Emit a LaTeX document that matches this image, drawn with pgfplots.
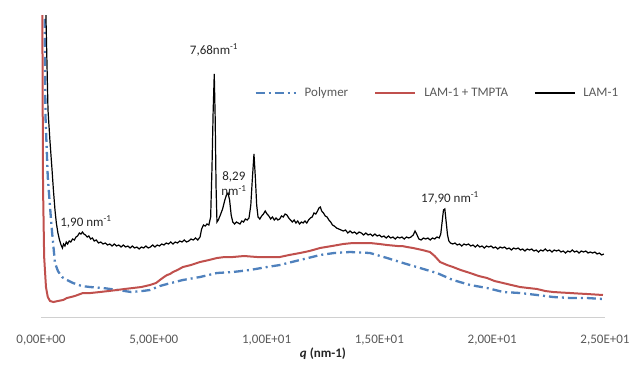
\documentclass[border=0pt]{standalone}
\usepackage{pgfplots}
\pgfplotsset{compat=1.18}
\usepackage{fontspec}
\setmainfont{Carlito}
\definecolor{exred}{HTML}{C0504D}
\definecolor{exblue}{HTML}{4F81BD}
\definecolor{txtgray}{HTML}{595959}
\definecolor{axgray}{HTML}{D0D0D0}
\begin{document}
\begin{tikzpicture}
\path[use as bounding box] (-41pt,-51pt) rectangle (592pt,317pt);
\begin{axis}[
  at={(0pt,0pt)}, anchor=south west,
  scale only axis, width=564pt, height=302pt,
  xmin=0, xmax=25, ymin=0, ymax=302,
  axis x line=bottom, axis y line=none,
  x axis line style={-, draw=axgray, line width=0.9pt},
  xtick={0,5,10,15,20,25},
  xticklabels={{0,00E+00},{5,00E+00},{1,00E+01},{1,50E+01},{2,00E+01},{2,50E+01}},
  major tick length=0pt,
  xticklabel style={font=\fontsize{13}{15}\selectfont, text=txtgray, yshift=-15pt},
  xlabel={\textit{q} (nm-1)},
  every axis x label/.style={at={(axis description cs:0.5,0)}, anchor=center, yshift=-37pt,
    font=\fontsize{13}{15}\selectfont\bfseries, text=black!85},
  clip=true,
  legend columns=3,
  legend style={at={(axis description cs:0.378,0.742)}, anchor=west, draw=none, fill=none,
    font=\fontsize{13}{15}\selectfont, text=txtgray, inner sep=0pt,
    /tikz/every odd column/.append style={column sep=6pt},
    /tikz/every even column/.append style={column sep=24pt}},
  legend image code/.code={\draw[#1] (0pt,0pt) -- (40pt,0pt);},
]
\addplot[exblue, line width=2.3pt, dash pattern=on 9pt off 4pt on 2pt off 4pt] coordinates {
(0.10,450) (0.15,330) (0.20,200) (0.30,140) (0.40,110) (0.49,85) (0.62,54) (0.75,46) (0.93,40)
(1.15,37) (1.42,34) (1.80,31) (2.17,30) (2.75,29) (3.40,27) (4.00,25) (4.50,26) (4.83,27)
(5.27,31) (5.59,33) (6.29,37) (7.05,40) (7.80,44) (8.51,45) (9.26,47) (10.02,50) (10.59,52)
(11.48,57) (12.37,62) (13.00,64) (13.70,65) (14.58,64) (15.34,59) (16.05,54) (16.80,49)
(17.55,44) (18.26,37) (19.02,32) (19.77,29) (20.48,25) (21.23,24) (21.99,22) (22.70,20)
(23.45,19) (24.20,19) (24.91,18)
};
\addlegendentry{Polymer}
\addplot[exred, line width=2pt] coordinates {
(0.02,450) (0.06,300) (0.09,130) (0.14,60) (0.22,30) (0.30,20) (0.40,16) (0.55,15) (0.75,16)
(0.98,17) (1.15,19) (1.50,21) (1.86,24) (2.20,24) (2.62,25) (3.00,26) (3.37,27) (3.70,28) (4.08,29)
(4.45,30) (4.83,32) (5.10,34) (5.27,37) (5.45,40) (5.59,42) (5.72,43) (5.85,45) (6.05,47)
(6.29,50) (6.65,52) (7.05,55) (7.45,57) (7.80,59) (8.15,60) (8.51,60) (9.00,61) (9.57,60)
(10.02,60) (10.59,60) (11.00,62) (11.48,64) (11.90,66) (12.37,69) (12.90,71) (13.40,73)
(13.83,74) (14.10,74) (14.58,74) (15.00,73) (15.34,72) (15.80,71) (16.00,71) (16.22,70)
(16.49,69) (16.90,67) (17.24,65) (17.45,61) (17.69,55) (18.00,52) (18.26,50) (18.60,47)
(19.02,44) (19.40,41) (19.77,39) (20.10,36) (20.48,34) (20.85,32) (21.23,30) (21.60,29)
(21.99,28) (22.35,26) (22.70,25) (23.05,24.5) (23.45,24) (23.80,23.5) (24.20,23) (24.55,22.5) (24.91,22)
};
\addlegendentry{LAM-1 + TMPTA}
\addplot[black, line width=1.2pt] coordinates {
(0.12,420) (0.22,300) (0.31,207) (0.40,175) (0.49,147) (0.55,127) (0.62,107) (0.68,94) (0.75,84)
(0.82,77) (0.89,72) (0.95,69) (1.00,73) (1.06,71) (1.12,75) (1.18,73) (1.25,76) (1.32,75)
(1.40,78) (1.48,77) (1.55,80) (1.62,81) (1.70,84) (1.77,83) (1.84,85) (1.90,83) (1.97,82)
(2.05,80) (2.12,81) (2.20,78) (2.28,79) (2.36,76) (2.45,77) (2.55,74) (2.65,75) (2.75,73)
(2.85,74) (2.95,72) (3.05,73) (3.15,71) (3.25,73) (3.35,71) (3.45,72) (3.55,70) (3.65,72)
(3.75,70) (3.85,71) (3.95,69) (4.05,71) (4.15,69) (4.25,70) (4.35,68) (4.45,70) (4.55,69)
(4.65,71) (4.75,69) (4.85,70) (4.95,72) (5.05,70) (5.15,72) (5.25,71) (5.35,73) (5.45,72)
(5.55,74) (5.65,73) (5.75,75) (5.85,73) (5.95,75) (6.05,74) (6.15,76) (6.25,75) (6.35,77)
(6.45,75) (6.55,76) (6.65,78) (6.75,77) (6.85,79) (6.95,77) (7.05,80) (7.12,88) (7.20,92)
(7.28,91) (7.36,93) (7.44,92) (7.52,100) (7.58,150) (7.63,205) (7.68,243) (7.72,200)
(7.76,130) (7.80,95) (7.86,97) (7.95,102) (8.05,108) (8.15,117) (8.22,122) (8.29,124)
(8.36,117) (8.43,102) (8.50,95) (8.58,93) (8.66,95) (8.74,94) (8.82,93) (8.90,96) (8.98,95)
(9.06,98) (9.14,97) (9.22,99) (9.30,112) (9.36,135) (9.44,163) (9.50,140) (9.56,112)
(9.62,100) (9.70,98) (9.78,101) (9.86,103) (9.94,106) (10.02,103) (10.10,101) (10.18,98)
(10.26,100) (10.34,97) (10.42,99) (10.50,97) (10.58,98) (10.66,101) (10.74,100) (10.82,103)
(10.90,102) (10.98,99) (11.06,97) (11.14,95) (11.22,97) (11.30,94) (11.38,96) (11.46,93)
(11.54,95) (11.62,94) (11.70,96) (11.78,94) (11.86,97) (11.94,99) (12.02,100) (12.10,104)
(12.18,103) (12.26,106) (12.32,109) (12.38,110) (12.44,106) (12.52,104) (12.60,101)
(12.68,100) (12.76,97) (12.84,95) (12.92,92) (13.00,91) (13.10,89) (13.20,88) (13.30,87)
(13.40,86) (13.50,87) (13.60,84) (13.70,86) (13.80,84) (13.90,85) (14.00,83) (14.10,85)
(14.20,84) (14.30,82) (14.40,84) (14.50,82) (14.60,83) (14.70,81) (14.80,83) (14.90,81)
(15.00,82) (15.10,80) (15.20,81) (15.30,79) (15.40,81) (15.50,79) (15.60,80) (15.70,78)
(15.80,80) (15.90,79) (16.00,80) (16.10,78) (16.20,80) (16.30,79) (16.40,80) (16.50,82)
(16.58,86) (16.65,83) (16.75,78) (16.85,77) (16.95,79) (17.05,78) (17.15,79) (17.25,77)
(17.35,79) (17.45,78) (17.55,80) (17.65,79) (17.72,83) (17.78,95) (17.84,107) (17.90,108)
(17.96,95) (18.02,82) (18.08,76) (18.15,74) (18.25,73) (18.35,74) (18.45,72) (18.55,73)
(18.65,71) (18.75,73) (18.85,72) (18.95,73) (19.05,71) (19.15,72) (19.25,70) (19.35,72)
(19.45,70) (19.55,71) (19.65,69) (19.75,71) (19.85,70) (19.95,71) (20.05,69) (20.15,70)
(20.25,68) (20.35,70) (20.45,69) (20.55,70) (20.65,68) (20.75,69) (20.85,67) (20.95,69)
(21.05,68) (21.15,69) (21.25,67) (21.35,68) (21.45,66) (21.55,68) (21.65,67) (21.75,68)
(21.85,66) (21.95,67) (22.05,65) (22.15,67) (22.25,66) (22.35,68) (22.45,66) (22.55,67)
(22.65,65) (22.75,67) (22.85,66) (22.95,67) (23.05,65) (23.15,66) (23.25,64) (23.35,66)
(23.45,65) (23.55,67) (23.65,65) (23.75,66) (23.85,64) (23.95,66) (24.05,65) (24.15,66)
(24.25,64) (24.35,65) (24.45,64) (24.55,65) (24.65,63) (24.75,64) (24.85,62) (24.95,63)
};
\addlegendentry{LAM-1}
\begin{scope}[every node/.style={font=\fontsize{13}{14}\selectfont, text=black!85, inner sep=0pt}]
\node at (axis cs:7.67,267) {7,68nm\textsuperscript{-1}};
\node[align=center, font=\fontsize{13}{15}\selectfont] at (axis cs:8.55,133) {8,29\\nm\textsuperscript{-1}};
\node at (axis cs:1.99,95) {1,90 nm\textsuperscript{-1}};
\node at (axis cs:18.13,119) {17,90 nm\textsuperscript{-1}};
\end{scope}
\end{axis}
\end{tikzpicture}
\end{document}
